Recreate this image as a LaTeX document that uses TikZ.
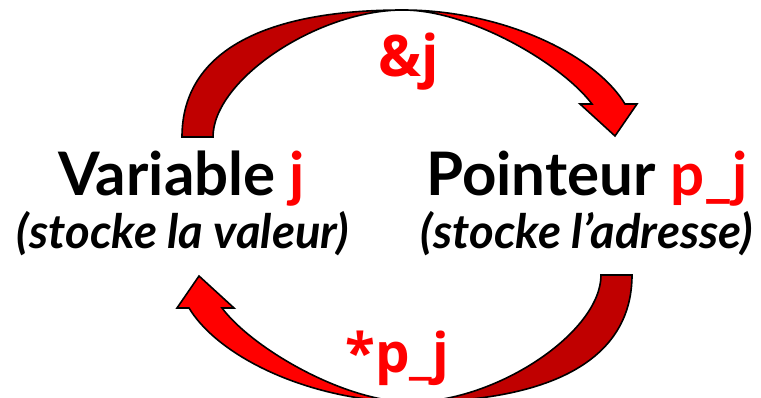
\documentclass[tikz,border=0pt]{standalone}
\usepackage{fontspec}
\setmainfont{Lato}
\newfontfamily\lblfont{Open Sans}
\definecolor{darkred}{RGB}{192,0,0}
\definecolor{brightred}{RGB}{255,0,0}
\tikzset{
  backpart/.style={fill=darkred, draw=black, line width=1.2pt},
  frontpart/.style={fill=brightred, draw=black, line width=1.2pt},
  title/.style={font=\fontsize{45}{54}\selectfont\bfseries, anchor=base, inner sep=0pt},
  subtitle/.style={font=\fontsize{35.5}{42}\selectfont\bfseries\itshape, anchor=base, inner sep=0pt},
  lbl/.style={font=\lblfont\bfseries\fontsize{41}{49}\selectfont, text=brightred, anchor=base, inner sep=0pt}
}
\newcommand\ribbonarrow{%
  \path[backpart] (182,137) .. controls (182,54.5) and (259,10) .. (403,10)
     .. controls (317.5,10) and (213,79.9) .. (213,137) -- cycle;
  \path[frontpart] (403,10) .. controls (500,10) and (594,53) .. (625,104)
     -- (637,104) -- (615,136) -- (580,104) -- (592,104)
     .. controls (562,64) and (470,10) .. (403,10) -- cycle;
}
\begin{document}
\begin{tikzpicture}[x=0.75pt, y=-0.75pt]
  \useasboundingbox (0,0) rectangle (761,397);
  \clip (0,0) rectangle (761,397);
  % top arrow (&j)
  \ribbonarrow
  % bottom arrow (*p_j), same shape turned half a turn
  \begin{scope}[rotate around={180:(407,206)}]
    \ribbonarrow
  \end{scope}
  \node[title] (vj) at (182,195) {Variable \textcolor{brightred}{j}};
  \node[subtitle] (vjs) at (183,248) {(stocke la valeur)};
  \node[title] (pj) at (587,195) {Pointeur \textcolor{brightred}{p\_j}};
  \node[subtitle] (pjs) at (587,248) {(stocke l’adresse)};
  \node[lbl, font=\lblfont\bfseries\fontsize{43}{50}\selectfont] (amp) at (409,76) {\&j};
  \node[lbl] (deref) at (397,372) {*p\_j};
\end{tikzpicture}
\end{document}
